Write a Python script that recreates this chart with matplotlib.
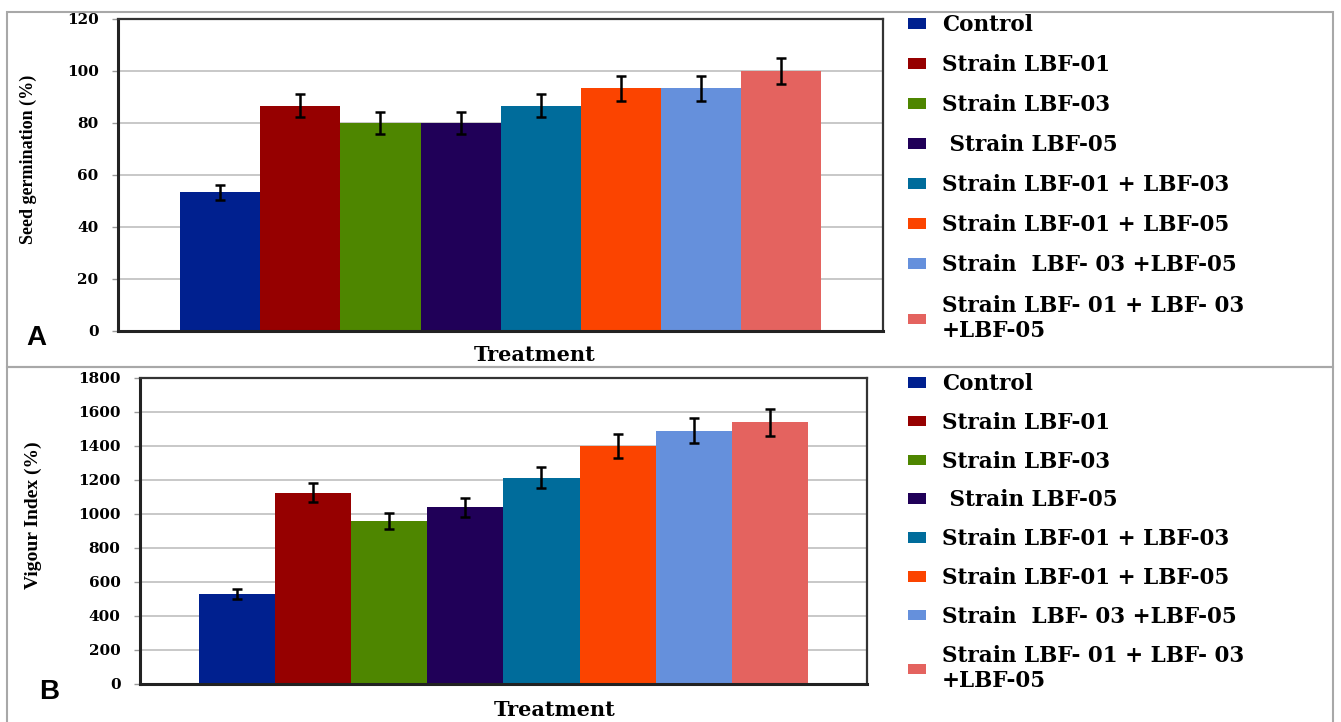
import matplotlib.pyplot as plt
import numpy as np
from matplotlib.patches import Rectangle

treatments = [
    "Control",
    "Strain LBF-01",
    "Strain LBF-03",
    " Strain LBF-05",
    "Strain LBF-01 + LBF-03",
    "Strain LBF-01 + LBF-05",
    "Strain  LBF- 03 +LBF-05",
    "Strain LBF- 01 + LBF- 03\n+LBF-05",
]
germination = [53.3, 86.7, 80.0, 80.0, 86.7, 93.3, 93.3, 100.0]
germination_err = [2.8, 4.4, 4.1, 4.1, 4.4, 4.7, 4.7, 5.0]
vigour = [527, 1125, 958, 1037, 1213, 1400, 1490, 1538]
vigour_err = [30, 55, 48, 54, 63, 70, 75, 78]

germination_ticks = [0, 20, 40, 60, 80, 100, 120]
vigour_ticks = [0, 200, 400, 600, 800, 1000, 1200, 1400, 1600, 1800]

colors = ["#00208f", "#960000", "#4e8600", "#200058",
          "#006c9b", "#fb4400", "#6590dc", "#e4635f"]

SERIF_BOLD = dict(family="DejaVu Serif", weight="bold")


def draw_panel(fig, rect, values, errors, ticks, ylabel, ylabel_size, ylabel_x,
               xlabel_xy, legend_top, spacing, letter, letter_xy):
    ax = fig.add_axes(rect)
    n = len(values)
    width = 1.0 / (n + 1.56)
    positions = (np.arange(n) - (n - 1) / 2) * width

    for i in range(n):
        ax.bar(positions[i], values[i], width=width, color=colors[i],
               yerr=errors[i], capsize=3.6, label=treatments[i], zorder=2,
               error_kw=dict(ecolor="black", elinewidth=1.8, capthick=1.8))

    ax.set_xlim(-0.5, 0.5)
    ax.set_ylim(ticks[0], ticks[-1])
    ax.set_yticks(ticks)
    ax.set_xticks([])
    ax.set_axisbelow(True)
    ax.yaxis.grid(True, color="#bfbfbf", linewidth=1.2)
    ax.tick_params(axis="y", length=4, width=1, color="#9a9a9a", pad=10)
    for lab in ax.get_yticklabels():
        lab.set_fontfamily("DejaVu Serif")
        lab.set_fontweight("bold")
        lab.set_fontsize(11)

    for side in ["left", "bottom"]:
        ax.spines[side].set_linewidth(2.2)
        ax.spines[side].set_color("#222222")
    for side in ["top", "right"]:
        ax.spines[side].set_linewidth(1.6)
        ax.spines[side].set_color("#333333")

    ax.set_ylabel(ylabel, family="Liberation Serif", weight="bold",
                  fontsize=ylabel_size)
    ax.yaxis.set_label_coords(ylabel_x, 0.55)
    ax.set_xlabel("Treatment", fontsize=15, **SERIF_BOLD)
    ax.xaxis.set_label_coords(*xlabel_xy)

    ax.legend(loc="upper left", bbox_to_anchor=(908 / 1341, legend_top),
              bbox_transform=fig.transFigure, frameon=False,
              prop=dict(family="DejaVu Serif", weight="bold", size=15.5),
              handlelength=0.82, handleheight=0.38, handletextpad=0.75,
              labelspacing=spacing, borderpad=0, borderaxespad=0)

    fig.text(letter_xy[0], letter_xy[1], letter, family="Liberation Sans",
             weight="bold", fontsize=20, ha="center", va="center")
    return ax


fig = plt.figure(figsize=(13.41, 7.22), dpi=100)

# panel frames
fig.add_artist(Rectangle((7 / 1341, 1 - 367 / 722), 1326 / 1341, 355 / 722,
                         transform=fig.transFigure, fill=False,
                         edgecolor="#a8a8a8", linewidth=1.5))
fig.add_artist(Rectangle((7 / 1341, -0.01), 1326 / 1341, 1 - 367 / 722 + 0.01,
                         transform=fig.transFigure, fill=False,
                         edgecolor="#a8a8a8", linewidth=1.5))

draw_panel(fig, [0.0880, 0.5416, 0.5705, 0.4321], germination, germination_err,
           germination_ticks, "Seed germination (%)", 13, -0.106,
           (0.545, -0.045), 1 - 14 / 722, 0.84, "A", (36 / 1341, 1 - 338 / 722))

draw_panel(fig, [0.1044, 0.0533, 0.5421, 0.4232], vigour, vigour_err,
           vigour_ticks, "Vigour Index (%)", 14, -0.135, (0.571, -0.055),
           1 - 373 / 722, 0.78, "B", (49 / 1341, 1 - 692 / 722))

fig.savefig("out.png", dpi=100)
